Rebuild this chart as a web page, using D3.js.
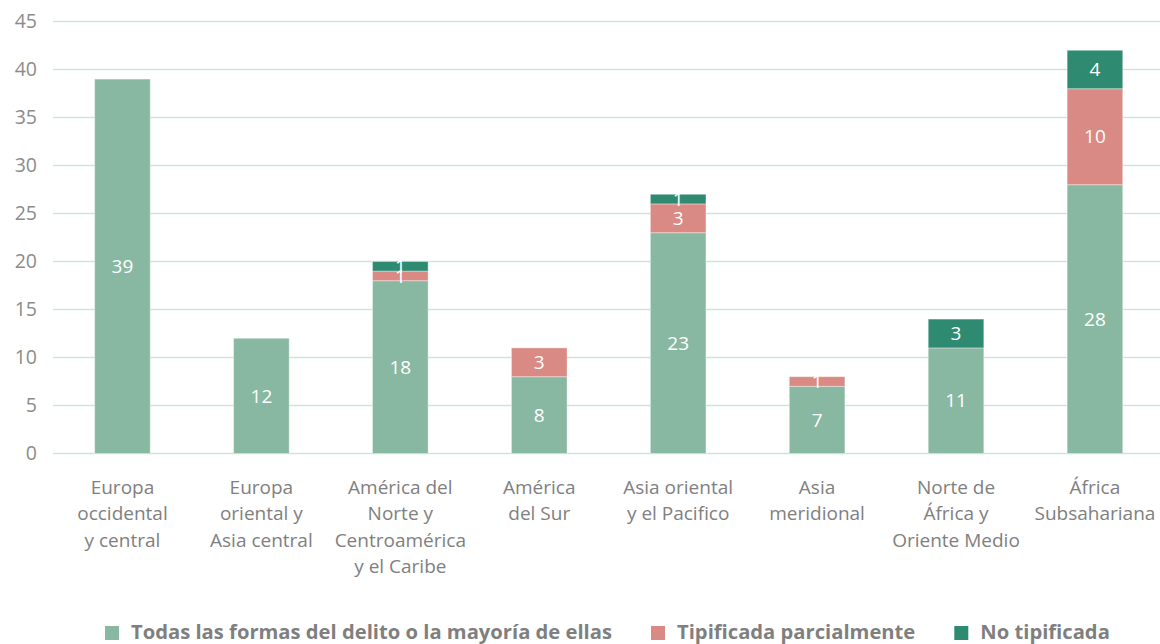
<!DOCTYPE html>
<html><head><meta charset="utf-8">
<script src="https://cdn.jsdelivr.net/npm/d3@7"></script>
<style>body{margin:0;background:#fff}svg{display:block}text{font-family:"Open Sans","Noto Sans",sans-serif}</style>
</head><body><svg id="c" width="1160" height="644"></svg>
<script>
const categories = [
  ["Europa","occidental","y central"],
  ["Europa","oriental y","Asia central"],
  ["América del","Norte y","Centroamérica","y el Caribe"],
  ["América","del Sur"],
  ["Asia oriental","y el Pacifico"],
  ["Asia","meridional"],
  ["Norte de","África y","Oriente Medio"],
  ["África","Subsahariana"]
];
const seriesNames = ["Todas las formas del delito o la mayoría de ellas","Tipificada parcialmente","No tipificada"];
const todas = [39,12,18,8,23,7,11,28];
const parcial = [0,0,1,3,3,1,0,10];
const noTip = [0,0,1,0,1,0,3,4];
const yTicks = [0,5,10,15,20,25,30,35,40,45];
const colors = ["#88b8a2","#d98a84","#2e8b72"];

const svg = d3.select("#c");
const x = d3.scaleBand().domain(d3.range(categories.length)).range([53,1164.4]).paddingInner(0.6).paddingOuter(0.3);
const y = d3.scaleLinear().domain([0,45]).range([453.5,21.5]);

// grid
svg.append("g").selectAll("line").data(yTicks).join("line")
  .attr("x1",53).attr("x2",1160).attr("y1",d=>y(d)).attr("y2",d=>y(d))
  .attr("stroke","#c9e6da").attr("stroke-width",1.3);
const yAxis = svg.append("g").attr("transform","translate(37,0)")
  .call(d3.axisLeft(y).tickValues(yTicks).tickSize(0).tickPadding(0));
yAxis.select(".domain").remove();
yAxis.selectAll("text").attr("font-size",19.5).attr("fill","#8c8c8c").attr("font-family","'Open Sans',sans-serif");

const data = categories.map((c,i)=>({i, todas:todas[i], parcial:parcial[i], noTip:noTip[i]}));
const stack = d3.stack().keys(["todas","parcial","noTip"])(data);
const g = svg.append("g");
stack.forEach((layer,k)=>{
  g.append("g").selectAll("rect").data(layer.filter(d=>d[1]-d[0]>0)).join("rect")
    .attr("x",d=>x(d.data.i)).attr("width",x.bandwidth())
    .attr("y",d=>y(d[1])).attr("height",d=>y(d[0])-y(d[1]))
    .attr("fill",colors[k]).attr("stroke","#ffffff").attr("stroke-opacity",0.35).attr("stroke-width",1);
});
stack.forEach((layer,k)=>{
  g.append("g").selectAll("text").data(layer.filter(d=>d[1]-d[0]>0)).join("text")
    .attr("x",d=>x(d.data.i)+x.bandwidth()/2).attr("y",d=>y((d[0]+d[1])/2))
    .attr("dy","0.35em").attr("text-anchor","middle").attr("fill","#fff").attr("font-size",19)
    .text(d=>d[1]-d[0]);
});

// x labels
const xl = svg.append("g");
categories.forEach((lines,i)=>{
  const t = xl.append("text").attr("x",x(i)+x.bandwidth()/2).attr("y",494)
    .attr("text-anchor","middle").attr("fill","#808080").attr("font-size",19);
  lines.forEach((l,j)=>t.append("tspan").attr("x",x(i)+x.bandwidth()/2).attr("dy",j?26.3:0).text(l));
});

// legend
const lg = svg.append("g");
let lx = 105;
seriesNames.forEach((n,k)=>{
  lg.append("rect").attr("x",lx).attr("y",626).attr("width",14).attr("height",14).attr("fill",colors[k]);
  const t = lg.append("text").attr("x",lx+26).attr("y",639).attr("font-size",20.2).attr("font-weight","bold")
    .attr("fill","#7f7f7f").text(n);
  lx += 26 + t.node().getComputedTextLength() + 39;
});
</script></body></html>
